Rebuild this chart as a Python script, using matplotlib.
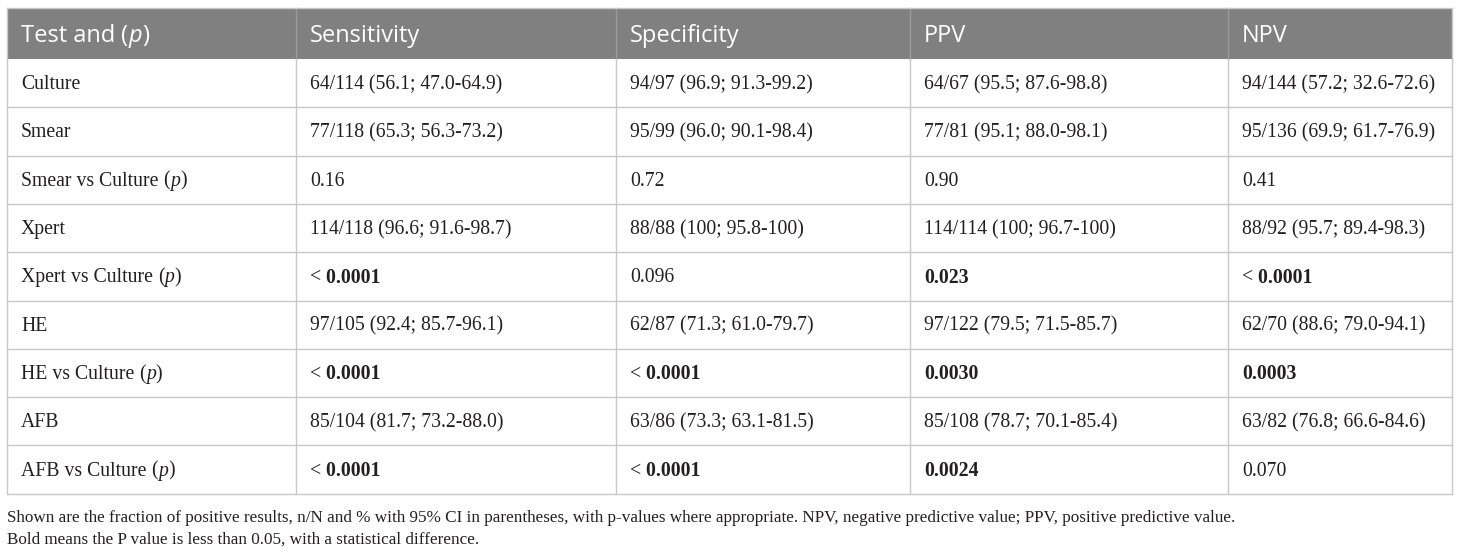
import matplotlib
matplotlib.use("Agg")
import matplotlib.pyplot as plt
from matplotlib.patches import Rectangle

# table content
headers = ["Test and ", "Sensitivity", "Specificity", "PPV", "NPV"]
tests = ["Culture", "Smear", "Smear vs Culture ", "Xpert", "Xpert vs Culture ",
         "HE", "HE vs Culture ", "AFB", "AFB vs Culture "]
has_p = [False, False, True, False, True, False, True, False, True]
sensitivity = ["64/114 (56.1; 47.0-64.9)", "77/118 (65.3; 56.3-73.2)", "0.16",
               "114/118 (96.6; 91.6-98.7)", "< 0.0001", "97/105 (92.4; 85.7-96.1)",
               "< 0.0001", "85/104 (81.7; 73.2-88.0)", "< 0.0001"]
specificity = ["94/97 (96.9; 91.3-99.2)", "95/99 (96.0; 90.1-98.4)", "0.72",
               "88/88 (100; 95.8-100)", "0.096", "62/87 (71.3; 61.0-79.7)",
               "< 0.0001", "63/86 (73.3; 63.1-81.5)", "< 0.0001"]
ppv = ["64/67 (95.5; 87.6-98.8)", "77/81 (95.1; 88.0-98.1)", "0.90",
       "114/114 (100; 96.7-100)", "0.023", "97/122 (79.5; 71.5-85.7)",
       "0.0030", "85/108 (78.7; 70.1-85.4)", "0.0024"]
npv = ["94/144 (57.2; 32.6-72.6)", "95/136 (69.9; 61.7-76.9)", "0.41",
       "88/92 (95.7; 89.4-98.3)", "< 0.0001", "62/70 (88.6; 79.0-94.1)",
       "0.0003", "63/82 (76.8; 66.6-84.6)", "0.070"]
# significant p-values are printed in bold
bold = [
    [False, False, False, False],
    [False, False, False, False],
    [False, False, False, False],
    [False, False, False, False],
    [True, False, True, True],
    [False, False, False, False],
    [True, True, True, True],
    [False, False, False, False],
    [True, True, True, False],
]
notes = [
    "Shown are the fraction of positive results, n/N and % with 95% CI in parentheses, "
    "with p-values where appropriate. NPV, negative predictive value; PPV, positive predictive value.",
    "Bold means the P value is less than 0.05, with a statistical difference.",
]

W, H = 1460, 554
col_x = [7, 296, 616, 910, 1228, 1452]
header_top, header_bot = 8, 59
row_h = 48.3
pad = 14
grid_c = "#c8c8c8"
text_c = "#231f20"
head_bg = "#808080"
serif = "Liberation Serif"
sans = "Open Sans"

fig = plt.figure(figsize=(W / 100, H / 100), dpi=100)
ax = fig.add_axes([0, 0, 1, 1])
ax.set_xlim(0, W)
ax.set_ylim(H, 0)
ax.axis("off")
renderer = fig.canvas.get_renderer()


def draw_runs(x, y, runs, size, color):
    # draw text pieces side by side, each with its own style
    for s, fam, weight, style in runs:
        t = ax.text(x, y, s, ha="left", va="center", fontsize=size, color=color,
                    family=fam, fontweight=weight, fontstyle=style)
        x += t.get_window_extent(renderer).width


# header
ax.add_patch(Rectangle((col_x[0], header_top), col_x[-1] - col_x[0],
                       header_bot - header_top, facecolor=head_bg, edgecolor="none"))
hy = (header_top + header_bot) / 2 + 2
for j, h in enumerate(headers):
    runs = [(h, sans, "normal", "normal")]
    if j == 0:
        runs += [("(", sans, "normal", "normal"), ("p", sans, "normal", "italic"),
                  (")", sans, "normal", "normal")]
    draw_runs(col_x[j] + pad, hy, runs, 17, "white")
for x in col_x[1:-1]:
    ax.plot([x, x], [header_top, header_bot], color="#9a9a9a", lw=1)

# body
columns = [sensitivity, specificity, ppv, npv]
n = len(tests)
bottom = header_bot + n * row_h
for i in range(n):
    y0 = header_bot + i * row_h
    yc = y0 + row_h / 2 + 1.5
    runs = [(tests[i], serif, "normal", "normal")]
    if has_p[i]:
        runs += [("(", serif, "normal", "normal"), ("p", serif, "normal", "italic"),
                  (")", serif, "normal", "normal")]
    draw_runs(col_x[0] + pad, yc, runs, 14.2, text_c)
    for j, col in enumerate(columns):
        val = col[i]
        w = "bold" if bold[i][j] else "normal"
        if val.startswith("<"):
            runs = [("<", serif, "normal", "normal"), (" " + val[2:], serif, w, "normal")]
        else:
            runs = [(val, serif, w, "normal")]
        draw_runs(col_x[j + 1] + pad, yc, runs, 14.2, text_c)
    ax.plot([col_x[0], col_x[-1]], [y0 + row_h, y0 + row_h], color=grid_c, lw=1)

for x in col_x:
    ax.plot([x, x], [header_bot, bottom], color=grid_c, lw=1)
for x in (col_x[0], col_x[-1]):
    ax.plot([x, x], [header_top, header_bot], color=grid_c, lw=1)
ax.plot([col_x[0], col_x[-1]], [header_top, header_top], color=grid_c, lw=1)

# footnotes
for k, line in enumerate(notes):
    ax.text(col_x[0], 518 + k * 21.5, line, ha="left", va="center", fontsize=12.35,
            family=serif, color=text_c)

fig.savefig("out.png", dpi=100)
